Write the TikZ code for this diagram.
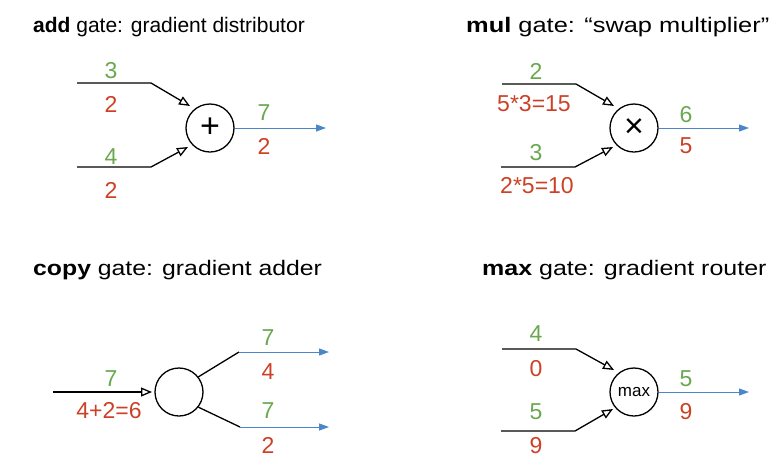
\documentclass[tikz,border=0pt]{standalone}
\usepackage{fontspec}
\setmainfont{Liberation Sans}
\usetikzlibrary{arrows.meta}
\definecolor{gval}{RGB}{106,168,79}
\definecolor{rval}{RGB}{204,65,37}
\definecolor{bline}{RGB}{74,134,200}
\begin{document}
\begin{tikzpicture}[x=1pt,y=-1pt,
  gatec/.style={circle,draw,line width=1.3pt,minimum size=48pt,inner sep=0pt},
  inwire/.style={line width=1.3pt,-{Triangle[open,length=11pt,width=9pt]}},
  plainwire/.style={line width=1.3pt},
  outwire/.style={bline,line width=1pt,-{Triangle[length=10pt,width=7pt]}},
  gv/.style={text=gval,font=\fontsize{23}{27}\selectfont,inner sep=0pt},
  rv/.style={text=rval,font=\fontsize{23}{27}\selectfont,inner sep=0pt},
  ttl/.style={anchor=base west,font=\fontsize{21}{24}\selectfont,inner sep=0pt}]
\useasboundingbox (0,0) rectangle (779,472);
% titles
\node[ttl] (t1) at (33,32) {\scalebox{1.0}[1]{\textbf{add} gate: gradient distributor}};
\node[ttl] (t2) at (466,32) {\scalebox{1.21}[1]{\textbf{mul} gate: “swap multiplier”}};
\node[ttl] (t3) at (33,275) {\scalebox{1.18}[1]{\textbf{copy} gate: gradient adder}};
\node[ttl] (t4) at (482,275) {\scalebox{1.19}[1]{\textbf{max} gate: gradient router}};

% ===== add gate
\node[gatec,font=\fontsize{34}{36}\selectfont] (add) at (210,128) {+};
\coordinate (a1s) at (77,83);  \coordinate (a1b) at (151,83);  \coordinate (a1t) at (190,106);
\coordinate (a2s) at (77,167); \coordinate (a2b) at (151,167); \coordinate (a2t) at (188,147);
\coordinate (aout) at (326,128);
\draw[inwire] (a1s) -- (a1b) -- (a1t);
\draw[inwire] (a2s) -- (a2b) -- (a2t);
\draw[outwire] (add) -- (aout);
\node[gv] (l1) at (111,71) {3};
\node[rv] (l2) at (111,104) {2};
\node[gv] (l3) at (111,157) {4};
\node[rv] (l4) at (111,190) {2};
\node[gv] (l5) at (264,113) {7};
\node[rv] (l6) at (264,146) {2};

% ===== mul gate
\node[gatec,font=\fontsize{34}{36}\selectfont] (mul) at (634,128) {×};
\coordinate (m1s) at (502,84);  \coordinate (m1b) at (576,84);  \coordinate (m1t) at (614,106);
\coordinate (m2s) at (501,167); \coordinate (m2b) at (575,167); \coordinate (m2t) at (613,147);
\coordinate (mout) at (749,128);
\draw[inwire] (m1s) -- (m1b) -- (m1t);
\draw[inwire] (m2s) -- (m2b) -- (m2t);
\draw[outwire] (mul) -- (mout);
\node[gv] (m1) at (536,71) {2};
\node[rv] (m2) at (534,104) {5*3=15};
\node[gv] (m3) at (536,153) {3};
\node[rv] (m4) at (537,186) {2*5=10};
\node[gv] (m5) at (686,115) {6};
\node[rv] (m6) at (686,146) {5};

% ===== copy gate
\node[gatec] (cp) at (179,392) {};
\coordinate (cs) at (53,392); \coordinate (ct) at (152,392);
\coordinate (cb1) at (239,352); \coordinate (ce1) at (329,352);
\coordinate (cb2) at (240,427); \coordinate (ce2) at (329,427);
\draw[inwire] (cs) -- (ct);
\draw[plainwire] (cp.38) -- (cb1);
\draw[plainwire] (cp.-38) -- (cb2);
\draw[outwire] (cb1) -- (ce1);
\draw[outwire] (cb2) -- (ce2);
\node[gv] (c1) at (111,379) {7};
\node[rv] (c2) at (109,411) {4+2=6};
\node[gv] (c3) at (268,338) {7};
\node[rv] (c4) at (268,372) {4};
\node[gv] (c5) at (268,411) {7};
\node[rv] (c6) at (268,445) {2};

% ===== max gate
\node[gatec,font=\fontsize{17}{20}\selectfont] (mx) at (634,392) {max};
\coordinate (x1s) at (502,349); \coordinate (x1b) at (576,349); \coordinate (x1t) at (614,370);
\coordinate (x2s) at (501,431); \coordinate (x2b) at (575,431); \coordinate (x2t) at (613,409);
\coordinate (xout) at (749,392);
\draw[inwire] (x1s) -- (x1b) -- (x1t);
\draw[inwire] (x2s) -- (x2b) -- (x2t);
\draw[outwire] (mx) -- (xout);
\node[gv] (x1) at (536,334) {4};
\node[rv] (x2) at (536,369) {0};
\node[gv] (x3) at (536,412) {5};
\node[rv] (x4) at (536,446) {9};
\node[gv] (x5) at (686,379) {5};
\node[rv] (x6) at (686,412) {9};
\end{tikzpicture}
\end{document}
